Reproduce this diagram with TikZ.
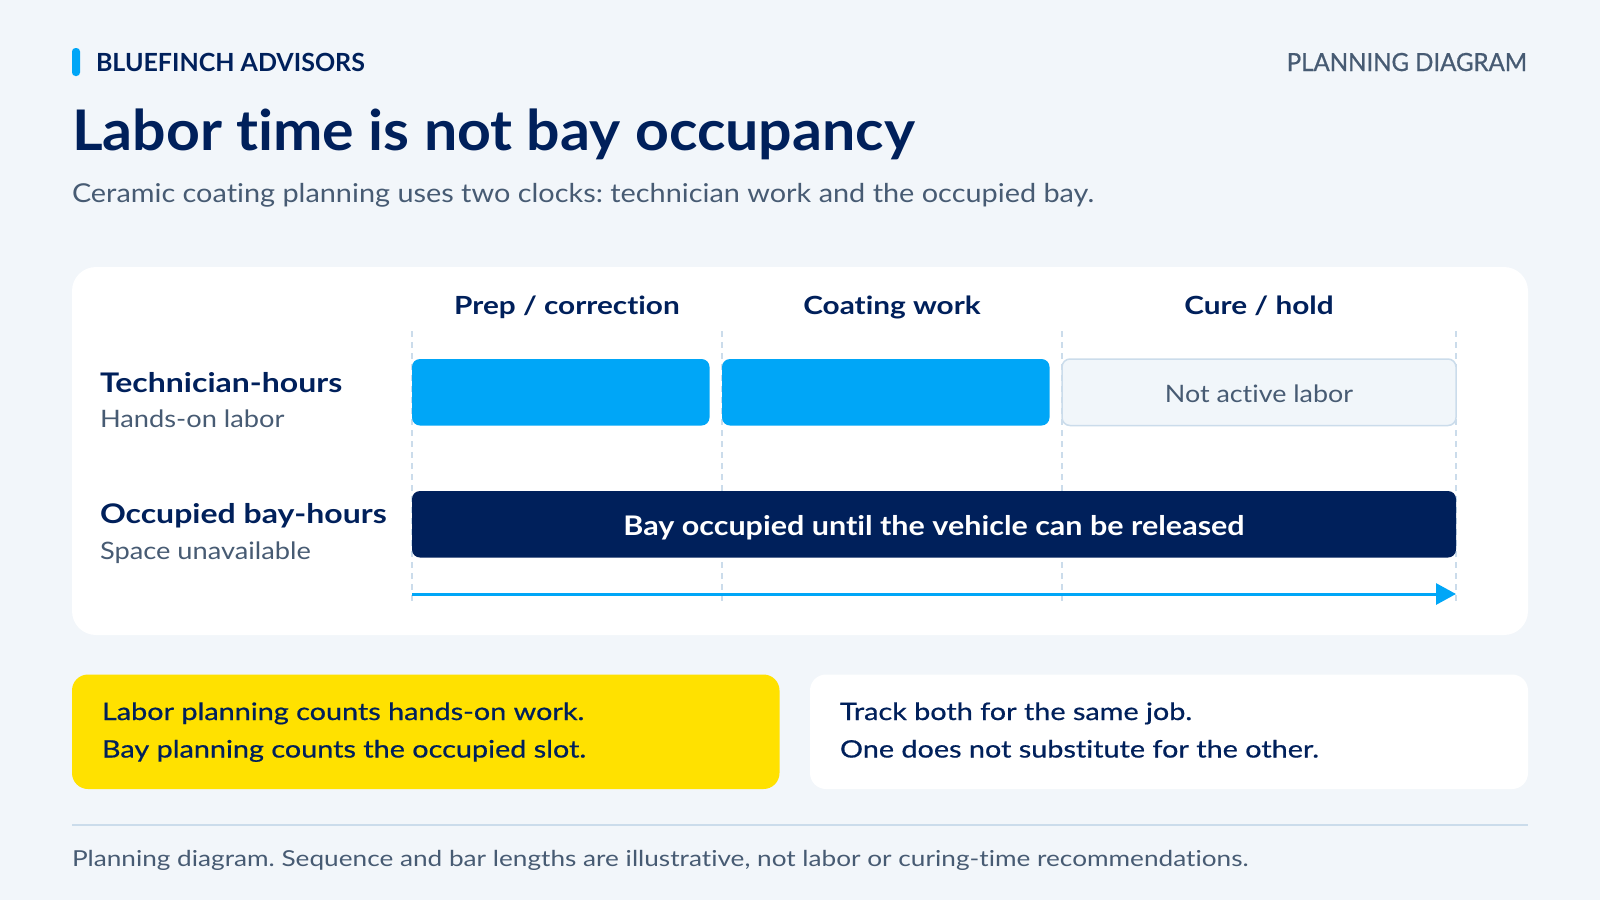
\documentclass[tikz,border=0pt]{standalone}
\usepackage{fontspec}
\setmainfont{Lato}[Ligatures=NoCommon]
\newfontfamily\medfont[FakeBold=0.7,Ligatures=NoCommon]{Lato}
\newcommand{\strw}[1]{\addfontfeature{FakeStretch=#1}}
\usetikzlibrary{arrows.meta}
\frenchspacing
\definecolor{bgc}{HTML}{F2F6FA}
\definecolor{navy}{HTML}{00205B}
\definecolor{skyb}{HTML}{00A6F7}
\definecolor{grayt}{HTML}{475B73}
\definecolor{yell}{HTML}{FFE100}
\definecolor{bordc}{HTML}{CBDCEB}
\definecolor{lightf}{HTML}{F1F6FA}
\tikzset{
  txt/.style={inner sep=0pt, outer sep=0pt},
  hdr/.style={txt, anchor=base, text=navy, font=\fontsize{25}{30}\selectfont\bfseries\strw{1.19}},
  rowlab/.style={txt, anchor=base west, text=navy, font=\fontsize{27}{32}\selectfont\bfseries\strw{1.185}},
  rowsub/.style={txt, anchor=base west, text=grayt, font=\fontsize{24}{29}\selectfont\strw{1.135}},
  guide/.style={draw=bordc, line width=1.5pt, dash pattern=on 6pt off 5pt},
  labbar/.style={fill=skyb, rounded corners=8pt},
  boxtxt/.style={txt, anchor=base west, text=navy, font=\fontsize{24}{29}\selectfont\medfont\strw{1.2}},
}
\begin{document}
\begin{tikzpicture}[x=1pt,y=-1pt]
\useasboundingbox (0,0) rectangle (1600,900);
\fill[bgc] (0,0) rectangle (1600,900);
% header
\fill[skyb, rounded corners=3.5pt] (72,48) rectangle (80,76);
\node[txt, anchor=base west, text=navy, font=\fontsize{25}{30}\selectfont\bfseries] (brand) at (96,71) {BLUEFINCH ADVISORS};
\node[txt, anchor=base east, text=grayt, font=\fontsize{25}{30}\selectfont\medfont\strw{0.96}] (kind) at (1527,71) {PLANNING DIAGRAM};
\node[txt, anchor=base west, text=navy, font=\fontsize{56}{64}\selectfont\bfseries\strw{1.054}] (title) at (72,150) {Labor time is not bay occupancy};
\node[txt, anchor=base west, text=grayt, font=\fontsize{26}{31}\selectfont\strw{1.11}] (sub) at (72,202) {Ceramic coating planning uses two clocks: technician work and the occupied bay.};
% card
\fill[white, rounded corners=24pt] (72,267) rectangle (1528,635);
% guides
\foreach \gx/\gn in {412/g0,722/g1,1062/g2,1456/g3}{
  \coordinate (\gn t) at (\gx,331);
  \coordinate (\gn b) at (\gx,601);
  \draw[guide] (\gn t) -- (\gn b);
}
% column headers
\node[hdr] (h1) at (567,314) {Prep / correction};
\node[hdr] (h2) at (892,314) {Coating work};
\node[hdr] (h3) at (1259,314) {Cure / hold};
% row labels
\node[rowlab] (r1) at (100,392) {Technician-hours};
\node[rowsub] (r1s) at (100,427) {Hands-on labor};
\node[rowlab] (r2) at (100,523) {Occupied bay-hours};
\node[rowsub] (r2s) at (100,559) {Space unavailable};
% bars
\fill[labbar] (412,359) rectangle (709.5,425.5);
\fill[labbar] (722,359) rectangle (1049.5,425.5);
\draw[fill=lightf, draw=bordc, line width=1.5pt, rounded corners=8pt] (1062,359) rectangle (1456,425.5);
\node[txt, anchor=base, text=grayt, font=\fontsize{24}{29}\selectfont\strw{1.12}] (na) at (1259,402) {Not active labor};
\fill[navy, rounded corners=8pt] (412,491) rectangle (1456,557.5);
\node[txt, anchor=base, text=white, font=\fontsize{27}{32}\selectfont\bfseries\strw{1.13}] (bay) at (934,535.5) {Bay occupied until the vehicle can be released};
% time arrow
\coordinate (ta) at (412,594);
\coordinate (tb) at (1456,594);
\draw[skyb, line width=3pt, -{Triangle[length=20pt, width=21pt]}] (ta) -- (tb);
% bottom boxes
\fill[yell, rounded corners=16pt] (72,674.5) rectangle (779.5,789);
\fill[white, rounded corners=16pt] (810,674.5) rectangle (1528,789);
\node[boxtxt] (y1) at (102,720) {Labor planning counts hands-on work.};
\node[boxtxt] (y2) at (102,757.5) {Bay planning counts the occupied slot.};
\node[boxtxt] (w1) at (840,720) {Track both for the same job.};
\node[boxtxt] (w2) at (840,757.5) {One does not substitute for the other.};
% separator and footer
\coordinate (sl) at (72,824.5);
\coordinate (sr) at (1528,824.5);
\draw[bordc, line width=2pt] (sl) -- (sr);
\node[txt, anchor=base west, text=grayt, font=\fontsize{22}{27}\selectfont\strw{1.19}] (foot) at (72,866.5) {Planning diagram. Sequence and bar lengths are illustrative, not labor or curing-time recommendations.};
\end{tikzpicture}
\end{document}
